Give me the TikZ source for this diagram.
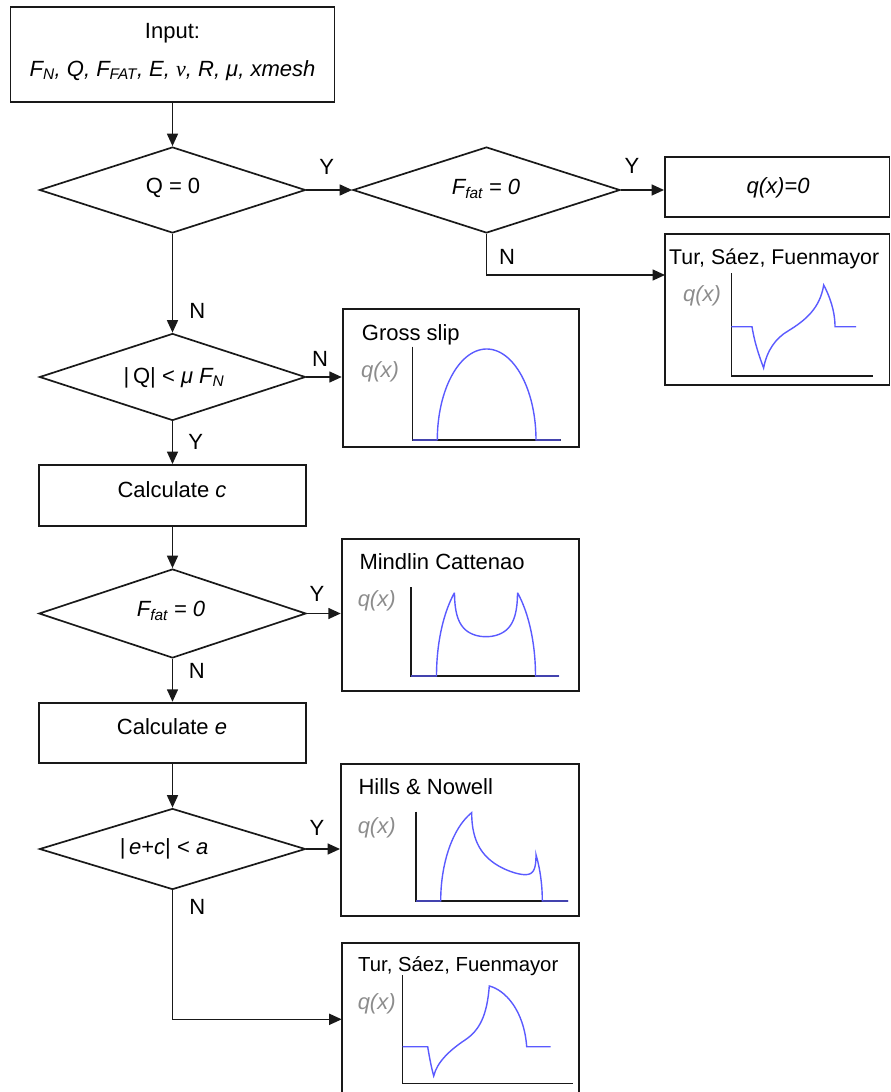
\documentclass[tikz,border=0pt]{standalone}
\usepackage{fontspec}
\setmainfont{Liberation Sans}
\newfontfamily\serfont{Liberation Serif}
\usetikzlibrary{shapes.geometric,arrows.meta}
\definecolor{curveblue}{RGB}{90,90,255}
\definecolor{labgray}{RGB}{140,140,140}
\definecolor{linegray}{RGB}{25,25,25}
\tikzset{
  every node/.style={font=\fontsize{22}{26}\selectfont, inner sep=0pt},
  flowbox/.style={draw=linegray, line width=1.9pt, rectangle, inner sep=0pt},
  decision/.style={draw=linegray, line width=1.7pt, diamond, inner sep=0pt},
  txt/.style={anchor=base},
  titletxt/.style={anchor=base west},
  smalltitle/.style={anchor=base west, font=\fontsize{21.3}{24}\selectfont},
  smalltitleb/.style={anchor=base west, font=\fontsize{20.3}{24}\selectfont},
  qlabel/.style={anchor=base, text=labgray, font=\fontsize{22}{26}\selectfont\itshape},
  flowarrow/.style={draw=linegray, line width=1.6pt, -{Triangle[length=12.5pt,width=11pt]}},
  axisline/.style={draw=linegray, line width=1.2pt},
  curve/.style={draw=curveblue, line width=1.4pt},
}
\begin{document}
\begin{tikzpicture}[x=1pt,y=-1pt]
\useasboundingbox (0,0) rectangle (891,1092);

% ---------- boxes ----------
\node[flowbox, minimum width=324, minimum height=94.4] (input) at (172.5,54.5) {};
\node[flowbox, minimum width=224.5, minimum height=59.4] (q0box) at (777.25,187) {};
\node[flowbox, minimum width=224.5, minimum height=151] (tur1) at (777.25,309.5) {};
\node[flowbox, minimum width=236, minimum height=137.4] (gross) at (460.7,378) {};
\node[flowbox, minimum width=267, minimum height=60.7] (calcc) at (172.5,495.35) {};
\node[flowbox, minimum width=237.3, minimum height=151.7] (mindlin) at (460.35,614.85) {};
\node[flowbox, minimum width=267, minimum height=60] (calce) at (172.5,732.7) {};
\node[flowbox, minimum width=238.3, minimum height=151.4] (hills) at (460.15,840) {};
\node[flowbox, minimum width=237.6, minimum height=156.7] (tur2) at (460.5,1021.65) {};

% ---------- decisions ----------
\node[decision, minimum width=266, minimum height=86] (d1) at (172.5,190) {};
\node[decision, minimum width=267, minimum height=86] (d2) at (486.5,190) {};
\node[decision, minimum width=266, minimum height=87] (d3) at (172.5,377) {};
\node[decision, minimum width=267, minimum height=89] (d4) at (172.5,613.5) {};
\node[decision, minimum width=266, minimum height=81] (d5) at (172.5,849) {};

% ---------- texts ----------
\node[txt] (tin1) at (172.5,38) {Input:};
\node[txt] (tin2) at (172.5,76) {\itshape F\textsubscript{N}, Q, F\textsubscript{FAT}, E, {\serfont ν}, R, μ, xmesh};
\node[txt] (td1) at (173,193) {Q = 0};
\node[txt] (td2) at (486,194) {\itshape F\textsubscript{fat} = 0};
\node[txt] (tq0) at (778,193) {\itshape q(x)=0};
\node[txt] (td3) at (174,383) {|\,Q| < \textit{μ F\textsubscript{N}}};
\node[txt] (tcc) at (172,497) {Calculate \textit{c}};
\node[txt] (td4) at (171,616) {\itshape F\textsubscript{fat} = 0};
\node[txt] (tce) at (172,734.7) {Calculate \textit{e}};
\node[txt] (td5) at (164,854.7) {|\,\textit{e}+\textit{c}| < \textit{a}};

\node[smalltitle] (ttur1) at (669,264.5) {Tur, Sáez, Fuenmayor};
\node[titletxt] (tgross) at (361.7,340) {Gross slip};
\node[titletxt] (tmind) at (359.3,569.7) {Mindlin Cattenao};
\node[titletxt] (thills) at (358.3,794.7) {Hills \& Nowell};
\node[smalltitleb] (ttur2) at (358,971) {Tur, Sáez, Fuenmayor};

\node[qlabel] (q1) at (702,301) {q(x)};
\node[qlabel] (q2) at (380,377) {q(x)};
\node[qlabel] (q3) at (376.7,606) {q(x)};
\node[qlabel] (q4) at (376.7,833) {q(x)};
\node[qlabel] (q5) at (376.7,1009) {q(x)};

% ---------- Y / N labels ----------
\node[txt] (l1) at (326.7,174.7) {Y};
\node[txt] (l2) at (632,173) {Y};
\node[txt] (l3) at (507,264) {N};
\node[txt] (l4) at (197.3,318.7) {N};
\node[txt] (l5) at (320,366) {N};
\node[txt] (l6) at (195.7,449.7) {Y};
\node[txt] (l7) at (317,601) {Y};
\node[txt] (l8) at (196.7,678) {N};
\node[txt] (l9) at (317,835) {Y};
\node[txt] (l10) at (197.3,914.7) {N};

% ---------- connectors ----------
\coordinate (t1in) at (665,275);
\coordinate (t2in) at (341.7,1019.3);
\draw[flowarrow] (input.south) -- (d1.north);
\draw[flowarrow] (d1.east) -- (d2.west);
\draw[flowarrow] (d2.east) -- (d2.east -| q0box.west);
\draw[flowarrow] (d2.south) |- (t1in);
\draw[flowarrow] (d1.south) -- (d3.north);
\draw[flowarrow] (d3.east) -- (d3.east -| gross.west);
\draw[flowarrow] (d3.south) -- (calcc.north);
\draw[flowarrow] (calcc.south) -- (d4.north);
\draw[flowarrow] (d4.east) -- (d4.east -| mindlin.west);
\draw[flowarrow] (d4.south) -- (calce.north);
\draw[flowarrow] (calce.south) -- (d5.north);
\draw[flowarrow] (d5.east) -- (d5.east -| hills.west);
\draw[flowarrow] (d5.south) |- (t2in);

% ---------- plot: Tur (top right) ----------
\draw[axisline] (731.4,273) -- (731.4,376) -- (873,376);
\draw[curve] (731.4,326.7) -- (752,326.7)
  .. controls (755,345) and (760,358) .. (763.6,368)
  .. controls (767,350) and (776,338) .. (788,331)
  .. controls (806,320) and (820,308) .. (823.7,285)
  .. controls (829,295) and (835,310) .. (835,326.7) -- (856,326.7);

% ---------- plot: Gross slip ----------
\draw[axisline] (412.7,346.7) -- (412.7,440) -- (560.7,440);
\draw[curve] (412.7,440) -- (437.3,440)
  -- plot[domain=0:180,samples=90] ({486.65-49.35*cos(\x)},{440-91*sin(\x)})
  -- (560.7,440);

% ---------- plot: Mindlin Cattaneo ----------
\draw[axisline] (411,587.3) -- (411,676) -- (559,676);
\draw[curve] (411,676) -- (436.5,676)
  -- plot[domain=0:50.5,samples=40] ({486-49.5*cos(\x)},{676-108*sin(\x)})
  -- plot[domain=0:180,samples=90] ({486-49.5*0.636*cos(\x)},{676-108*(sqrt(1-(0.636*cos(\x))^2)-0.636*sin(\x))})
  -- plot[domain=129.5:180,samples=40] ({486-49.5*cos(\x)},{676-108*sin(\x)})
  -- (559,676);

% ---------- plot: Hills & Nowell ----------
\draw[axisline] (416,811.7) -- (416,901) -- (568.3,901);
\draw[curve] (416,901) -- (440.7,901)
  -- plot[domain=0:67,samples=50] ({491.5-50.8*cos(\x)},{901-95.9*sin(\x)})
  -- plot[domain=0:180,samples=100] ({491.5+50.8*(0.243-0.633*cos(\x))},{901-95.9*(sqrt(1-(0.243-0.633*cos(\x))^2)-0.633*sin(\x))})
  -- plot[domain=151.2:180,samples=30] ({491.5-50.8*cos(\x)},{901-95.9*sin(\x)})
  -- (568.3,901);

% ---------- plot: Tur (bottom) ----------
\draw[axisline] (402.7,975) -- (402.7,1083.5) -- (572.7,1083.5);
\draw[curve] (402.7,1046.7) -- (427.7,1046.7)
  .. controls (429.5,1058) and (431.5,1068) .. (433.7,1076)
  .. controls (437,1062) and (450,1050) .. (465,1040)
  .. controls (480,1030) and (487,1015) .. (489.3,986)
  .. controls (505,990) and (524,1010) .. (526.7,1046.7) -- (550.7,1046.7);
\end{tikzpicture}
\end{document}
